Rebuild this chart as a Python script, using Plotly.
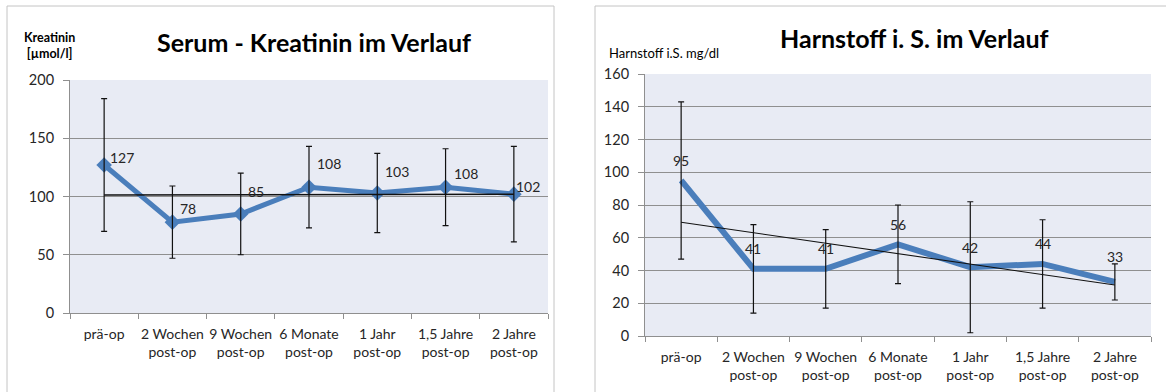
import numpy as np
import plotly.graph_objects as go

# ---------------- data ----------------
categories = ["prä-op", "2 Wochen<br>post-op", "9 Wochen<br>post-op", "6 Monate<br>post-op",
              "1 Jahr<br>post-op", "1,5 Jahre<br>post-op", "2 Jahre<br>post-op"]

krea_mean = [127, 78, 85, 108, 103, 108, 102]
krea_sd = [57, 31, 35, 35, 34, 33, 41]

harn_mean = [95, 41, 41, 56, 42, 44, 33]
harn_sd = [48, 27, 24, 24, 40, 27, 11]

krea_title = "Serum - Kreatinin im Verlauf"
harn_title = "Harnstoff i. S. im Verlauf"
krea_ylabel = "Kreatinin<br>[µmol/l]"
harn_ylabel = "Harnstoff i.S. mg/dl"

# label offsets (pixels) – layout only
krea_lbl_dx = [18, 16, 15, 20, 20, 20, 14]
krea_lbl_dy = [8, 14, 22, 24, 22, 14, 8]
harn_lbl_dy = [20, 20, 20, 20, 20, 20, 25]

# ---------------- style ----------------
W, H = 1166, 392
BLUE = "#4a7ebb"
PLOTBG = "#e8ebf4"
GRID = "#8f8f8f"
FONT = "Lato"
TXT = "#262626"


def px_x(p):
    return p / W


def px_y(p):
    return 1 - p / H


def trend(vals):
    idx = np.arange(1, len(vals) + 1)
    m, b = np.polyfit(idx, vals, 1)
    return list(m * idx + b)


fig = go.Figure()

# left chart
fig.add_trace(go.Scatter(x=categories, y=krea_mean, mode="lines+markers",
                         line=dict(color=BLUE, width=5),
                         marker=dict(symbol="diamond", size=12, color=BLUE),
                         xaxis="x", yaxis="y", showlegend=False, hoverinfo="skip"))
fig.add_trace(go.Scatter(x=[categories[0], categories[-1]],
                         y=[trend(krea_mean)[0], trend(krea_mean)[-1]], mode="lines",
                         line=dict(color="#111111", width=1.4),
                         xaxis="x", yaxis="y", showlegend=False, hoverinfo="skip"))
fig.add_trace(go.Scatter(x=categories, y=krea_mean, mode="markers",
                         marker=dict(size=1, color="rgba(0,0,0,0)"),
                         error_y=dict(type="data", array=krea_sd, visible=True,
                                      color="#111111", thickness=1.2, width=3),
                         xaxis="x", yaxis="y", showlegend=False, hoverinfo="skip"))

# right chart
fig.add_trace(go.Scatter(x=categories, y=harn_mean, mode="lines",
                         line=dict(color=BLUE, width=6),
                         xaxis="x2", yaxis="y2", showlegend=False, hoverinfo="skip"))
fig.add_trace(go.Scatter(x=[categories[0], categories[-1]],
                         y=[trend(harn_mean)[0], trend(harn_mean)[-1]], mode="lines",
                         line=dict(color="#111111", width=1.1),
                         xaxis="x2", yaxis="y2", showlegend=False, hoverinfo="skip"))
fig.add_trace(go.Scatter(x=categories, y=harn_mean, mode="markers",
                         marker=dict(size=1, color="rgba(0,0,0,0)"),
                         error_y=dict(type="data", array=harn_sd, visible=True,
                                      color="#111111", thickness=1.2, width=3),
                         xaxis="x2", yaxis="y2", showlegend=False, hoverinfo="skip"))

annotations = []
for c, v, dx, dy in zip(categories, krea_mean, krea_lbl_dx, krea_lbl_dy):
    annotations.append(dict(x=c, y=v, xref="x", yref="y", text=str(v), showarrow=False,
                            xshift=dx, yshift=dy, font=dict(family=FONT, size=14, color=TXT)))
for c, v, dy in zip(categories, harn_mean, harn_lbl_dy):
    annotations.append(dict(x=c, y=v, xref="x2", yref="y2", text=str(v), showarrow=False,
                            yshift=dy, font=dict(family=FONT, size=14, color=TXT)))

annotations += [
    dict(x=px_x(314), y=px_y(42), xref="paper", yref="paper", text=f"<b>{krea_title}</b>",
         showarrow=False, font=dict(family=FONT, size=25, color="#000"), xanchor="center", yanchor="middle"),
    dict(x=px_x(914), y=px_y(38), xref="paper", yref="paper", text=f"<b>{harn_title}</b>",
         showarrow=False, font=dict(family=FONT, size=25, color="#000"), xanchor="center", yanchor="middle"),
    dict(x=px_x(49), y=px_y(46), xref="paper", yref="paper", text=f"<b>{krea_ylabel}</b>",
         showarrow=False, font=dict(family=FONT, size=12.5, color="#000"), xanchor="center", yanchor="middle"),
    dict(x=px_x(607), y=px_y(53), xref="paper", yref="paper", text=harn_ylabel,
         showarrow=False, font=dict(family=FONT, size=13, color="#000"), xanchor="left", yanchor="middle"),
]

shapes = [
    dict(type="rect", xref="paper", yref="paper", x0=px_x(7), x1=px_x(554), y0=px_y(395), y1=px_y(6),
         line=dict(color="#c4c4c4", width=1), layer="below"),
    dict(type="rect", xref="paper", yref="paper", x0=px_x(595), x1=px_x(1175), y0=px_y(395), y1=px_y(6),
         line=dict(color="#c4c4c4", width=1), layer="below"),
]

xcommon = dict(type="category", tickson="boundaries", ticks="outside", ticklen=5, tickcolor=GRID,
               showline=True, linecolor=GRID, linewidth=1, showgrid=False, zeroline=False,
               range=[-0.5, 6.5], tickfont=dict(family=FONT, size=14, color=TXT), tickangle=0,
               ticklabelstandoff=8, fixedrange=True, automargin=False)
ycommon = dict(ticks="outside", ticklen=6, tickcolor=GRID, showline=True, linecolor=GRID, linewidth=1,
               showgrid=True, gridcolor=GRID, gridwidth=1, zeroline=False,
               tickfont=dict(family=FONT, size=14.5, color=TXT), ticklabelstandoff=6, fixedrange=True,
               automargin=False)

fig.update_layout(
    width=W, height=H, margin=dict(l=0, r=0, t=0, b=0, pad=0, autoexpand=False),
    paper_bgcolor="white", plot_bgcolor=PLOTBG,
    xaxis=dict(domain=[px_x(70), px_x(548)], anchor="y", **xcommon),
    yaxis=dict(domain=[px_y(313), px_y(80)], anchor="x", range=[0, 200], dtick=50, **ycommon),
    xaxis2=dict(domain=[px_x(645), px_x(1151)], anchor="y2", **xcommon),
    yaxis2=dict(domain=[px_y(336), px_y(74)], anchor="x2", range=[0, 160], dtick=20, **ycommon),
    annotations=annotations, shapes=shapes, showlegend=False,
)

fig.write_html("out.html", config={"displayModeBar": False},
               post_script="document.body.style.margin='0';document.body.style.overflow='hidden';")
